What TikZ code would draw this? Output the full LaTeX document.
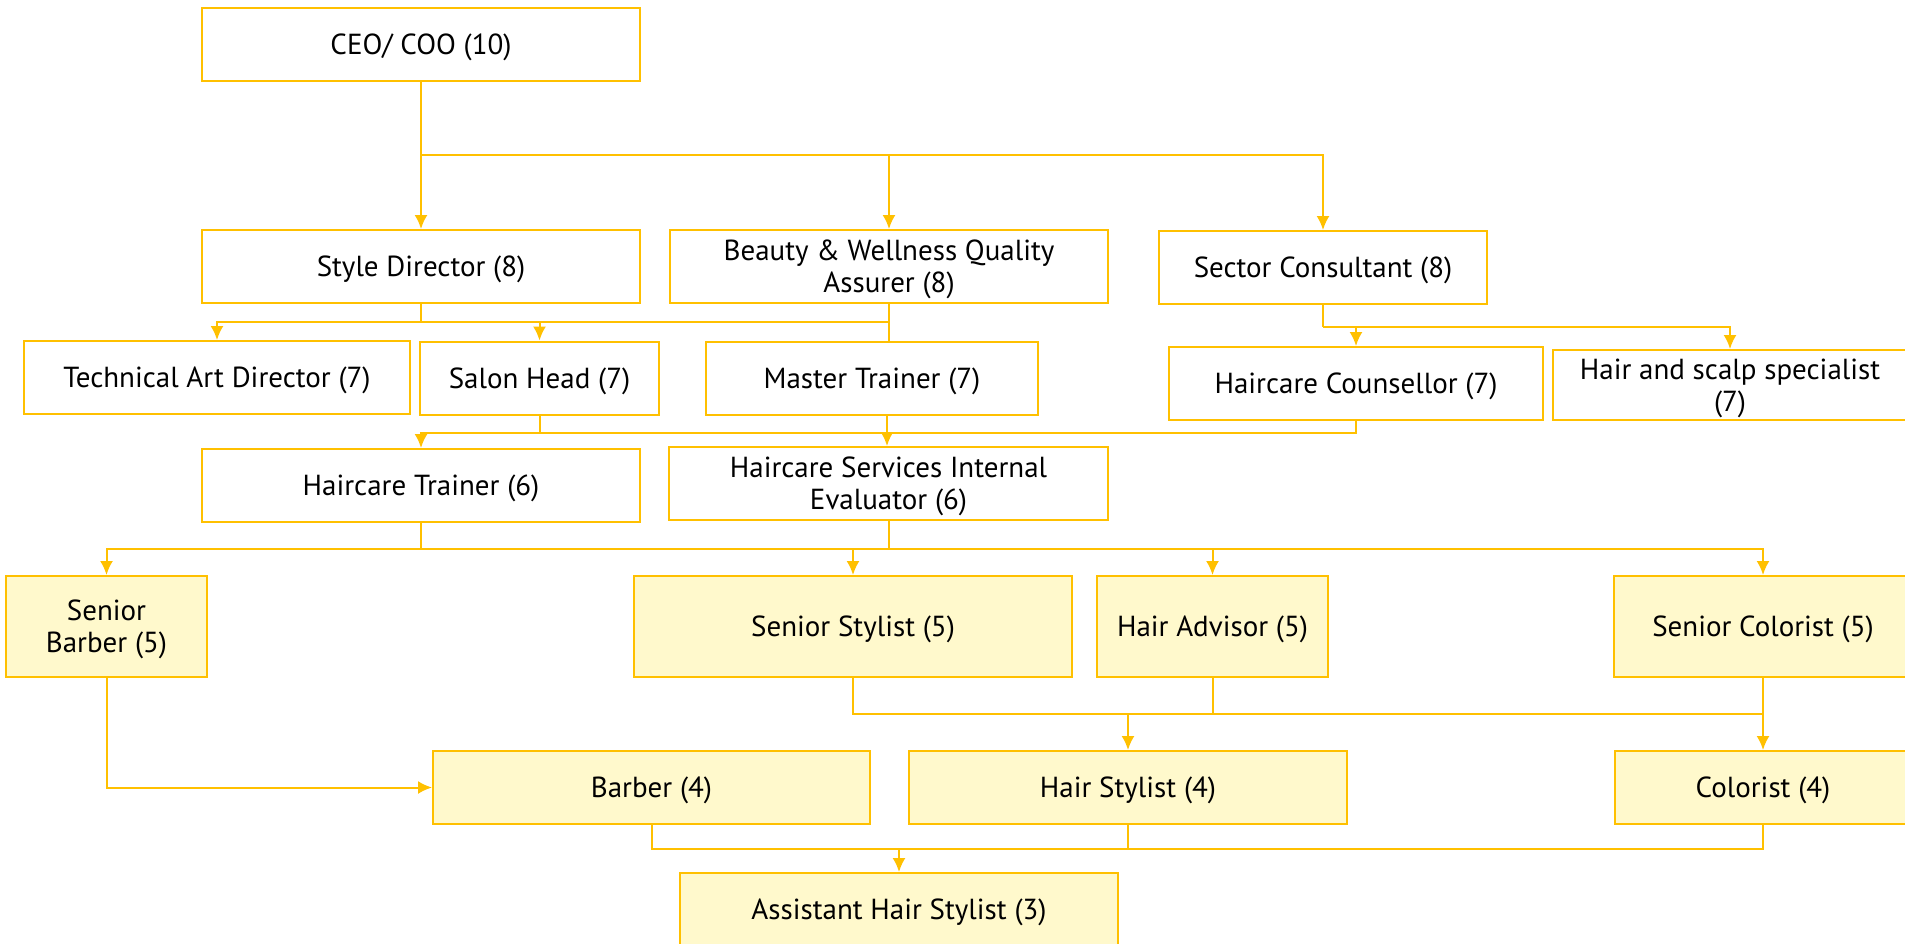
\documentclass[tikz,border=0pt]{standalone}
\usepackage{fontspec}
\setmainfont{PT Sans}
\usepackage{xcolor}
\usetikzlibrary{arrows.meta,positioning,calc}
\definecolor{lineamber}{RGB}{255,192,0}
\definecolor{paleyellow}{RGB}{255,249,204}
\tikzset{
  role/.style={rectangle, draw=lineamber, line width=2pt, fill=white, align=center, inner sep=2pt, text depth=0pt, font=\fontsize{29}{32}\selectfont, minimum height=73pt},
  rolefill/.style={role, fill=paleyellow}, % levels 5 and below
  link/.style={draw=lineamber, line width=2pt},
  arr/.style={-{Latex[length=14pt,width=13pt]}, draw=lineamber, line width=2pt}
}

\begin{document}
\begin{tikzpicture}[x=1pt, y=-1pt]
  \useasboundingbox[fill=white] (0,0) rectangle (1905,943);

  % level 10 and 8
  \node[role, minimum width=438pt] (ceo) at (421,44) {CEO/ COO (10)};
  \node[role, minimum width=438pt] (styledir) at (421,266.5) {Style Director (8)};
  \node[role, minimum width=438pt] (beauty) at (889,266.5) {Beauty \& Wellness Quality\\Assurer (8)};
  \node[role, minimum width=328pt] (sector) at (1323,267.5) {Sector Consultant (8)};

  % level 7
  \node[role, minimum width=386pt] (tad) at (217,377.5) {Technical Art Director (7)};
  \node[role, minimum width=239pt] (salon) at (539.5,378) {Salon Head (7)};
  \node[role, minimum width=332pt] (master) at (872,378) {Master Trainer (7)};
  \node[role, minimum width=374pt] (counsel) at (1356,383.5) {Haircare Counsellor (7)};
  \node[role, minimum width=354pt, minimum height=70pt] (scalp) at (1730,385) {Hair and scalp specialist\\(7)};

  % level 6
  \node[role, minimum width=438pt] (trainer) at (421,485.5) {Haircare Trainer (6)};
  \node[role, minimum width=439pt] (hsie) at (888.5,483.5) {Haircare Services Internal\\Evaluator (6)};

  % level 5
  \node[rolefill, minimum width=201pt, minimum height=101pt] (srbarber) at (106.5,626.5) {Senior\\Barber (5)};
  \node[rolefill, minimum width=438pt, minimum height=101pt] (srstylist) at (853,626.5) {Senior Stylist (5)};
  \node[rolefill, minimum width=231pt, minimum height=101pt] (advisor) at (1212.5,626.5) {Hair Advisor (5)};
  \node[rolefill, minimum width=298pt, minimum height=101pt] (srcolor) at (1763,626.5) {Senior Colorist (5)};

  % level 4 and 3
  \node[rolefill, minimum width=437pt] (barber) at (651.5,787.5) {Barber (4)};
  \node[rolefill, minimum width=438pt] (stylist) at (1128,787.5) {Hair Stylist (4)};
  \node[rolefill, minimum width=296pt] (colorist) at (1763,787.5) {Colorist (4)};
  \node[rolefill, minimum width=438pt] (assistant) at (899,909.5) {Assistant Hair Stylist (3)};

  % bus points
  \coordinate (b1) at (421,155);
  \coordinate (b2) at (421,322);
  \coordinate (b3) at (1323,327);
  \coordinate (b4) at (887,433);
  \coordinate (b5) at (421,549);
  \coordinate (b6) at (1212.5,714);
  \coordinate (b7) at (899,849);

  % 10 -> 8
  \draw[link] (ceo.south) -- (b1);
  \draw[arr] (b1) -- (styledir.north);
  \draw[arr] (b1) -| (beauty.north);
  \draw[arr] (b1) -| (sector.north);

  % 8 -> 7
  \draw[link] (styledir.south) -- (b2);
  \draw[link] (beauty.south) |- (b2);
  \draw[link] (beauty.south) -- (beauty.south |- master.north);
  \draw[arr] (b2) -| (tad.north);
  \draw[arr] (b2) -| (salon.north);
  \draw[link] (sector.south) -- (b3);
  \draw[arr] (b3) -| (counsel.north);
  \draw[arr] (b3) -| (scalp.north);

  % 7 -> 6
  \draw[link] (salon.south) |- (b4);
  \draw[link] (counsel.south) |- (b4);
  \draw[arr] (b4) -| (trainer.north);
  \draw[arr] (b4 |- master.south) -- (b4 |- hsie.north);

  % 6 -> 5
  \draw[link] (trainer.south) -- (b5);
  \draw[link] (hsie.south) -- (hsie.south |- b5);
  \draw[arr] (b5) -| (srbarber.north);
  \draw[arr] (b5) -| (srstylist.north);
  \draw[arr] (b5) -| (advisor.north);
  \draw[arr] (b5) -| (srcolor.north);

  % 5 -> 4
  \draw[arr] (srbarber.south) |- (barber.west);
  \draw[link] (srstylist.south) |- (b6);
  \draw[link] (advisor.south) -- (b6);
  \draw[link] (b6) -- (b6 -| srcolor.south);
  \draw[arr] (b6) -| (stylist.north);
  \draw[arr] (srcolor.south) -- (colorist.north);

  % 4 -> 3
  \draw[link] (barber.south) |- (b7);
  \draw[link] (colorist.south) |- (b7);
  \draw[link] (stylist.south) -- (stylist.south |- b7);
  \draw[arr] (b7) -- (assistant.north);
\end{tikzpicture}
\end{document}
